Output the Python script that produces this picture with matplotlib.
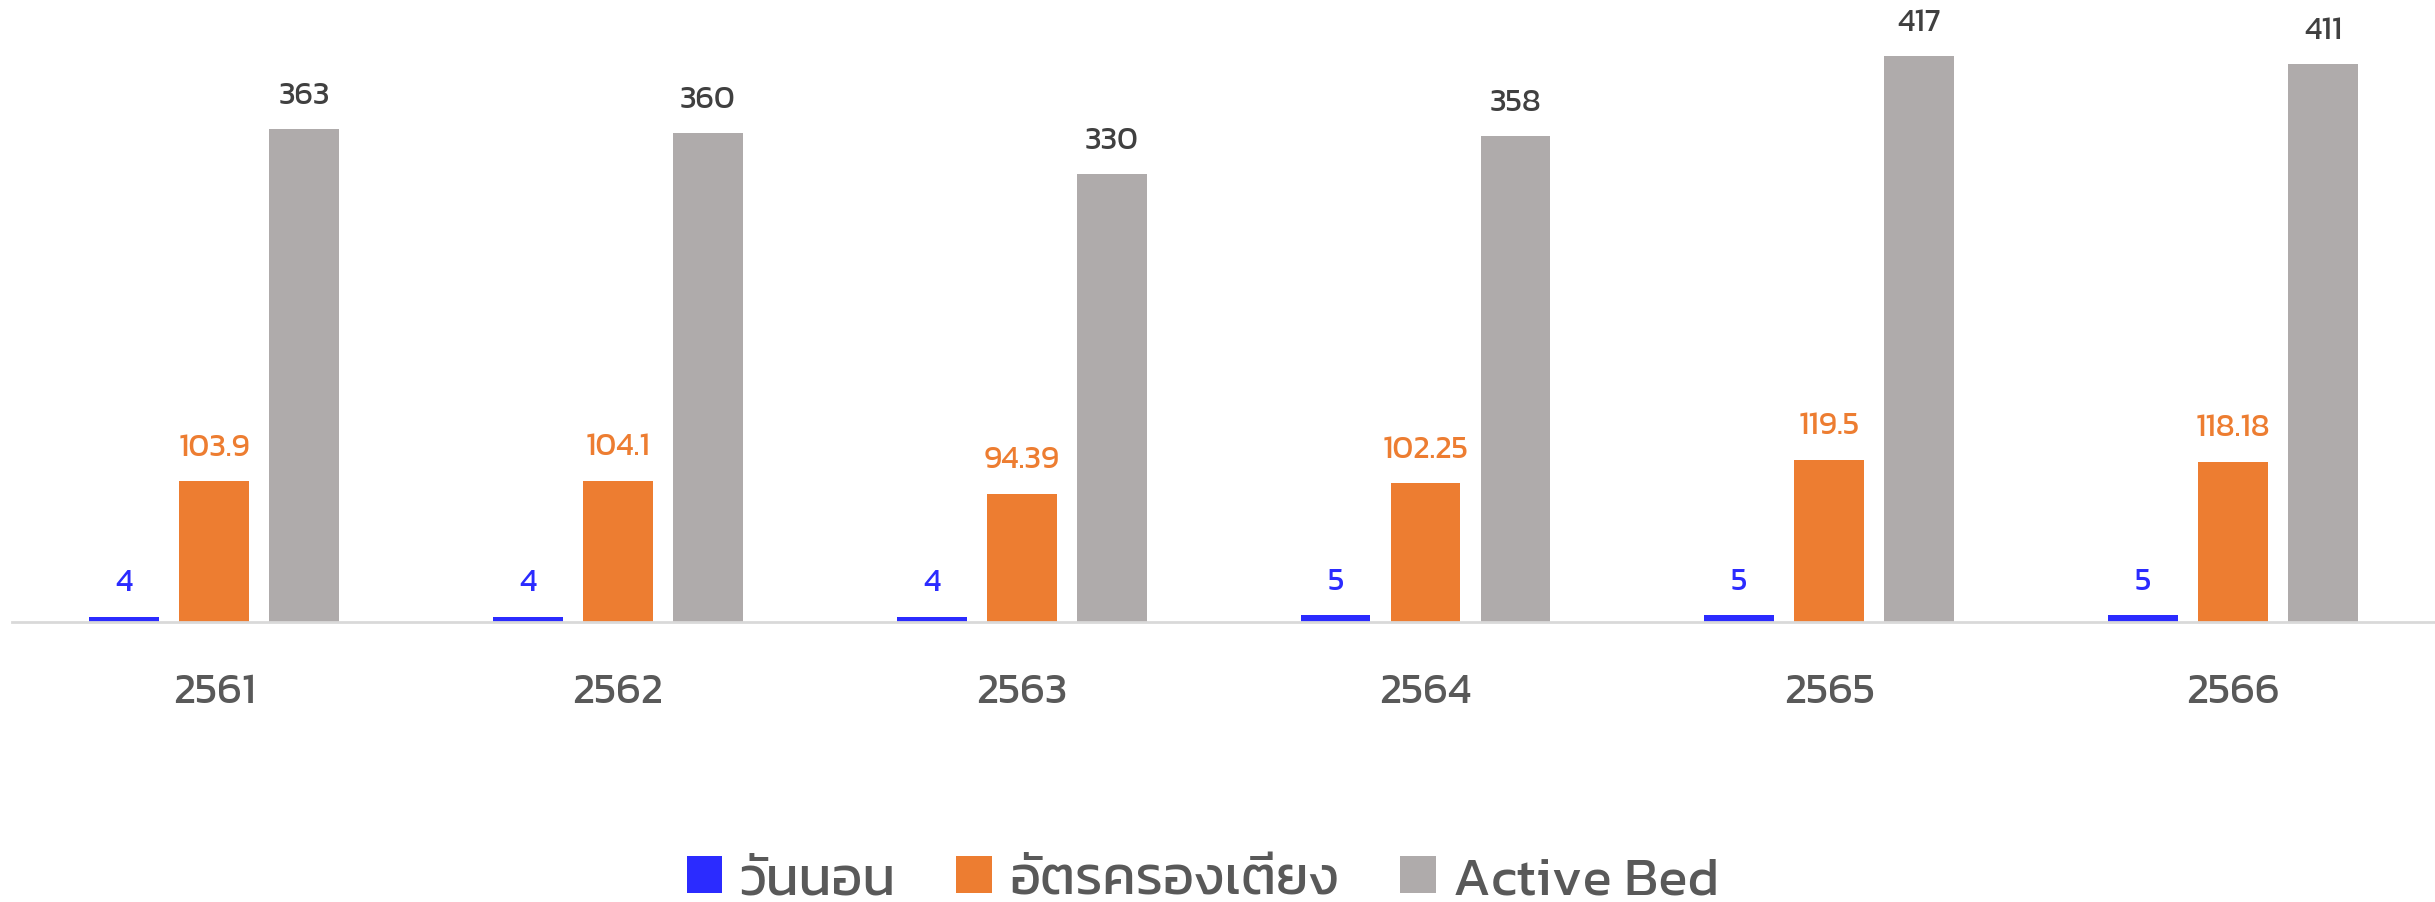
import matplotlib

matplotlib.use("Agg")
import matplotlib.pyplot as plt
import numpy as np

plt.rcParams["font.family"] = ["Kanit", "Prompt", "DejaVu Sans"]

# データ
years = ["2561", "2562", "2563", "2564", "2565", "2566"]
days = [4, 4, 4, 5, 5, 5]
occupancy = [103.9, 104.1, 94.39, 102.25, 119.5, 118.18]
active_bed = [363, 360, 330, 358, 417, 411]
series_names = ["วันนอน", "อัตรครองเตียง", "Active Bed"]

colors = ["#2B2BFF", "#ED7D31", "#AFABAB"]
label_colors = ["#2B2BFF", "#ED7D31", "#404040"]

fig = plt.figure(figsize=(24.35, 9.03), dpi=100)
ax = fig.add_axes([0.005, 0.31, 0.995, 0.69])

x = np.arange(len(years))
width = 0.173
step = 0.223

for i, (vals, name) in enumerate(zip([days, occupancy, active_bed], series_names)):
    pos = x + (i - 1) * step
    bars = ax.bar(pos, vals, width, color=colors[i], label=name)
    for b, v in zip(bars, vals):
        ax.annotate(
            f"{v:g}",
            (b.get_x() + b.get_width() / 2, b.get_height()),
            xytext=(0, 14),
            textcoords="offset points",
            ha="center",
            va="bottom",
            fontsize=23,
            color=label_colors[i],
        )

ax.set_xlim(-0.5, len(years) - 0.5)
ax.set_ylim(0, 459)
ax.set_xticks(x)
ax.set_xticklabels(years, fontsize=31, color="#595959")
ax.tick_params(axis="x", length=0, pad=37)
ax.set_yticks([])
for s in ["top", "left", "right"]:
    ax.spines[s].set_visible(False)
ax.spines["bottom"].set_color("#D9D9D9")
ax.spines["bottom"].set_linewidth(2)

leg = fig.legend(
    loc="lower center",
    bbox_to_anchor=(0.494, -0.058),
    ncol=3,
    frameon=False,
    fontsize=39,
    handlelength=0.66,
    handleheight=0.66,
    handletextpad=0.32,
    columnspacing=1.12,
)
for t in leg.get_texts():
    t.set_color("#595959")

fig.savefig("out.png", dpi=100)
plt.close(fig)
